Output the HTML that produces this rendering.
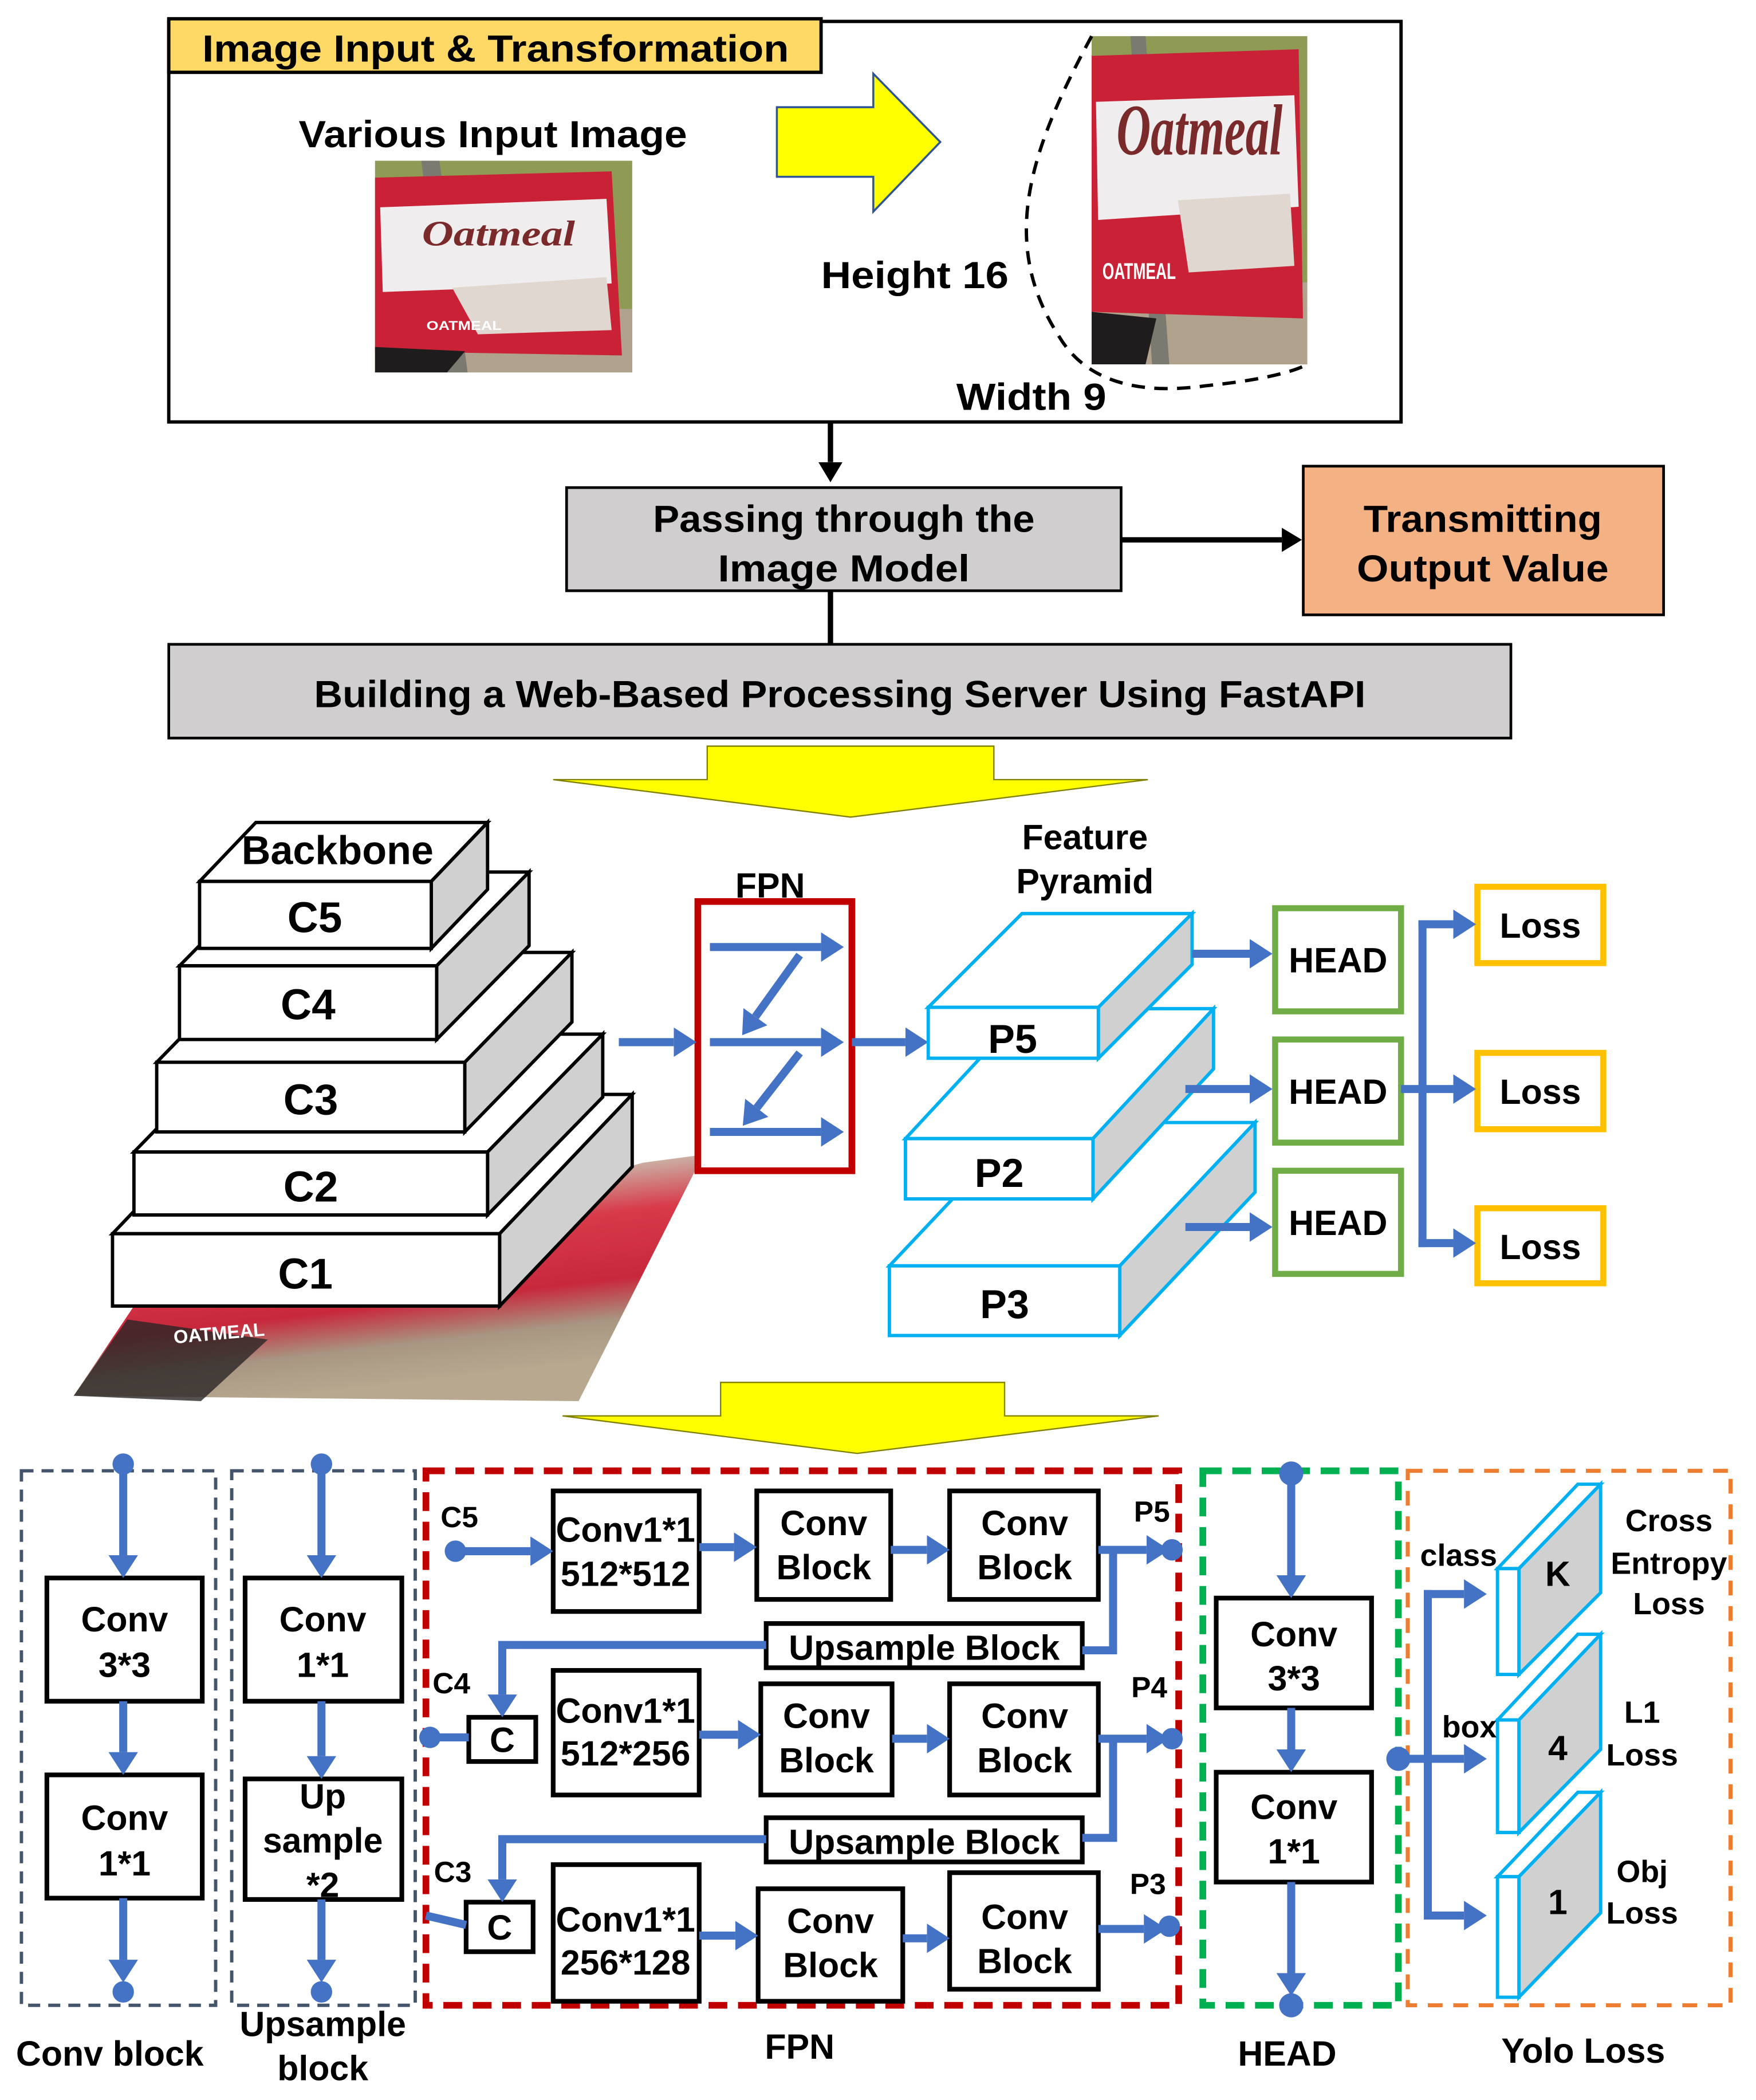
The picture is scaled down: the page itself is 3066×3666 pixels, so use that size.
<!DOCTYPE html>
<html><head><meta charset="utf-8"><style>
html,body{margin:0;padding:0;background:#fff;}
svg{display:block;}
text{font-family:"Liberation Sans",sans-serif;font-weight:bold;fill:#000;}
</style></head><body>
<svg xmlns="http://www.w3.org/2000/svg" width="3066" height="3666" viewBox="0 0 1311 1567.7" preserveAspectRatio="none">
<defs>
<marker id="b" markerUnits="userSpaceOnUse" markerWidth="17" markerHeight="22" refX="0" refY="11" orient="auto"><path d="M0,0 L17,11 L0,22 z" fill="#4472c4"/></marker>
<marker id="k" markerUnits="userSpaceOnUse" markerWidth="15" markerHeight="18" refX="0" refY="9" orient="auto"><path d="M0,0 L15,9 L0,18 z" fill="#000"/></marker>
<linearGradient id="ph" x1="0" y1="0" x2="0.3" y2="1">
<stop offset="0" stop-color="#9aa060"/><stop offset="0.25" stop-color="#c9c0b0"/><stop offset="0.45" stop-color="#d83a4a"/><stop offset="0.7" stop-color="#c8283c"/><stop offset="0.85" stop-color="#a89682"/><stop offset="1" stop-color="#b8a890"/>
</linearGradient>
</defs>

<!-- TOP SECTION -->
<rect x="126" y="16" width="920" height="299" fill="#fff" stroke="#000" stroke-width="2.5"/>
<rect x="126" y="14" width="487" height="40" fill="#ffd966" stroke="#000" stroke-width="2.5"/>
<text x="370" y="46" font-size="28" text-anchor="middle" textLength="438" lengthAdjust="spacingAndGlyphs">Image Input &amp; Transformation</text>
<text x="368" y="110" font-size="28" text-anchor="middle" textLength="290" lengthAdjust="spacingAndGlyphs">Various Input Image</text>

<!-- photo 1 -->
<g transform="translate(280,120) scale(1.92,1.58)">
<rect width="100" height="100" fill="#8f9a55"/>
<rect y="70" width="100" height="30" fill="#b0a28c"/>
<polygon points="18,0 25,0 36,100 28,100" fill="#7a7a70"/>
<polygon points="0,8 92,5 96,92 0,90" fill="#c92236"/>
<polygon points="2,22 90,18 92,58 3,62" fill="#efeded"/>
<polygon points="30,60 90,55 92,80 40,82" fill="#e0d8d0"/>
<polygon points="0,88 35,90 28,100 0,100" fill="#1e1c1c"/>
<text x="48" y="40" font-size="17" text-anchor="middle" style="font-family:'Liberation Serif',serif;font-style:italic;fill:#7a2a2a">Oatmeal</text>
<text x="20" y="80" font-size="6" style="fill:#fff">OATMEAL</text>
</g>

<!-- yellow arrow -->
<polygon points="580,80 652,80 652,55 702,106 652,158 652,132 580,132" fill="#ffff00" stroke="#2f5597" stroke-width="1.5"/>

<!-- photo 2 -->
<g transform="translate(815,27) scale(1.61,2.45)">
<rect width="100" height="100" fill="#8f9a55"/>
<rect y="75" width="100" height="25" fill="#b0a28c"/>
<polygon points="18,0 25,0 36,100 28,100" fill="#7a7a70"/>
<polygon points="0,6 96,4 98,86 0,84" fill="#c92236"/>
<polygon points="2,20 94,18 96,52 3,56" fill="#efeded"/>
<polygon points="40,50 92,48 94,70 45,72" fill="#e0d8d0"/>
<polygon points="0,84 30,86 25,100 0,100" fill="#1e1c1c"/>
<text x="50" y="36" font-size="22" text-anchor="middle" style="font-family:'Liberation Serif',serif;font-style:italic;fill:#7a2a2a">Oatmeal</text>
<text x="5" y="74" font-size="7" style="fill:#fff">OATMEAL</text>
</g>
<path d="M815,27 C770,110 745,180 790,250 C810,285 850,295 900,288 C940,284 965,278 976,272" fill="none" stroke="#000" stroke-width="2.5" stroke-dasharray="10,7"/>
<text x="683" y="215" font-size="28" text-anchor="middle" textLength="140" lengthAdjust="spacingAndGlyphs">Height 16</text>
<text x="770" y="306" font-size="28" text-anchor="middle" textLength="112" lengthAdjust="spacingAndGlyphs">Width 9</text>

<line x1="620" y1="315" x2="620" y2="345" stroke="#000" stroke-width="4" marker-end="url(#k)"/>
<rect x="423" y="364" width="414" height="77" fill="#d0cece" stroke="#000" stroke-width="2"/>
<text x="630" y="397" font-size="28" text-anchor="middle" textLength="285" lengthAdjust="spacingAndGlyphs">Passing through the</text>
<text x="630" y="434" font-size="28" text-anchor="middle" textLength="188" lengthAdjust="spacingAndGlyphs">Image Model</text>
<line x1="837" y1="403" x2="957" y2="403" stroke="#000" stroke-width="4" marker-end="url(#k)"/>
<rect x="973" y="348" width="269" height="111" fill="#f4b183" stroke="#000" stroke-width="2"/>
<text x="1107" y="397" font-size="28" text-anchor="middle" textLength="178" lengthAdjust="spacingAndGlyphs">Transmitting</text>
<text x="1107" y="434" font-size="28" text-anchor="middle" textLength="188" lengthAdjust="spacingAndGlyphs">Output Value</text>
<line x1="620" y1="441" x2="620" y2="481" stroke="#000" stroke-width="4"/>
<rect x="126" y="481" width="1002" height="70" fill="#d0cece" stroke="#000" stroke-width="2"/>
<text x="627" y="528" font-size="28" text-anchor="middle" textLength="785" lengthAdjust="spacingAndGlyphs">Building a Web-Based Processing Server Using FastAPI</text>

<!-- big yellow arrow 1 -->
<polygon points="413,582 528,582 528,557 742,557 742,582 857,582 635,610" fill="#ffff00" stroke="#7f7f00" stroke-width="1"/>

<!-- BACKBONE -->
<polygon points="55,1042 100,975 480,868 525,862 432,1046" fill="url(#ph)"/>
<polygon points="55,1042 95,985 200,1000 150,1046" fill="#2a2626" opacity="0.8"/>
<text x="130" y="1003" font-size="14" style="fill:#fff" transform="rotate(-5 130 1003)">OATMEAL</text>
<g stroke="#000" stroke-width="2.5" stroke-linejoin="miter">
<polygon points="84,921 183,817 472,817 373,921" fill="#fff"/>
<polygon points="373,921 472,817 472,871 373,975" fill="#d0d0d0"/>
<rect x="84" y="921" width="289" height="54" fill="#fff"/>
<polygon points="100,860 186,772 450,772 364,860" fill="#fff"/>
<polygon points="364,860 450,772 450,819 364,907" fill="#d0d0d0"/>
<rect x="100" y="860" width="264" height="47" fill="#fff"/>
<polygon points="117,793 197,711 427,711 347,793" fill="#fff"/>
<polygon points="347,793 427,711 427,763 347,845" fill="#d0d0d0"/>
<rect x="117" y="793" width="230" height="52" fill="#fff"/>
<polygon points="134,721 203,651 395,651 326,721" fill="#fff"/>
<polygon points="326,721 395,651 395,706 326,776" fill="#d0d0d0"/>
<rect x="134" y="721" width="192" height="55" fill="#fff"/>
<polygon points="149,658 191,614 364,614 322,658" fill="#fff"/>
<polygon points="322,658 364,614 364,664 322,708" fill="#d0d0d0"/>
<rect x="149" y="658" width="173" height="50" fill="#fff"/>
</g>
<text x="252" y="645" font-size="30" text-anchor="middle">Backbone</text>
<text x="235" y="696" font-size="32" text-anchor="middle">C5</text>
<text x="230" y="761" font-size="32" text-anchor="middle">C4</text>
<text x="232" y="832" font-size="32" text-anchor="middle">C3</text>
<text x="232" y="897" font-size="32" text-anchor="middle">C2</text>
<text x="228" y="962" font-size="32" text-anchor="middle">C1</text>

<!-- FPN -->
<text x="575" y="670" font-size="26" text-anchor="middle">FPN</text>
<rect x="521" y="673" width="115" height="201" fill="#fff" stroke="#c00000" stroke-width="5"/>
<g stroke="#4472c4" stroke-width="6" fill="none">
<line x1="462" y1="778" x2="503" y2="778" marker-end="url(#b)"/>
<line x1="530" y1="707" x2="613" y2="707" marker-end="url(#b)"/>
<line x1="530" y1="778" x2="613" y2="778" marker-end="url(#b)"/>
<line x1="530" y1="845" x2="613" y2="845" marker-end="url(#b)"/>
<line x1="597" y1="713" x2="564" y2="759" marker-end="url(#b)"/>
<line x1="597" y1="786" x2="565" y2="827" marker-end="url(#b)"/>
<line x1="636" y1="778" x2="676" y2="778" marker-end="url(#b)"/>
</g>

<text x="810" y="634" font-size="26" text-anchor="middle">Feature</text>
<text x="810" y="667" font-size="26" text-anchor="middle">Pyramid</text>
<g stroke="#00b0f0" stroke-width="2.5">
<polygon points="664,945 765,838 937,838 836,945" fill="#fff"/>
<polygon points="836,945 937,838 937,890 836,997" fill="#d0d0d0"/>
<rect x="664" y="945" width="172" height="52" fill="#fff"/>
<polygon points="676,850 766,753 906,753 816,850" fill="#fff"/>
<polygon points="816,850 906,753 906,798 816,895" fill="#d0d0d0"/>
<rect x="676" y="850" width="140" height="45" fill="#fff"/>
<polygon points="693,752 763,682 890,682 820,752" fill="#fff"/>
<polygon points="820,752 890,682 890,720 820,790" fill="#d0d0d0"/>
<rect x="693" y="752" width="127" height="38" fill="#fff"/>
</g>
<text x="756" y="786" font-size="30" text-anchor="middle">P5</text>
<text x="746" y="886" font-size="30" text-anchor="middle">P2</text>
<text x="750" y="984" font-size="30" text-anchor="middle">P3</text>

<g stroke="#70ad47" stroke-width="4.5" fill="#fff">
<rect x="952" y="678" width="94" height="77"/>
<rect x="952" y="776" width="94" height="77"/>
<rect x="952" y="874" width="94" height="77"/>
</g>
<text x="999" y="726" font-size="26" text-anchor="middle">HEAD</text>
<text x="999" y="824" font-size="26" text-anchor="middle">HEAD</text>
<text x="999" y="922" font-size="26" text-anchor="middle">HEAD</text>
<g stroke="#ffc000" stroke-width="4.5" fill="#fff">
<rect x="1103" y="662" width="94" height="57"/>
<rect x="1103" y="786" width="94" height="57"/>
<rect x="1103" y="902" width="94" height="56"/>
</g>
<text x="1150" y="700" font-size="26" text-anchor="middle">Loss</text>
<text x="1150" y="824" font-size="26" text-anchor="middle">Loss</text>
<text x="1150" y="940" font-size="26" text-anchor="middle">Loss</text>
<g stroke="#4472c4" stroke-width="6" fill="none">
<line x1="890" y1="712" x2="933" y2="712" marker-end="url(#b)"/>
<line x1="885" y1="813" x2="933" y2="813" marker-end="url(#b)"/>
<line x1="885" y1="916" x2="933" y2="916" marker-end="url(#b)"/>
<line x1="1062" y1="687" x2="1062" y2="931"/>
<line x1="1059" y1="690" x2="1085" y2="690" marker-end="url(#b)"/>
<line x1="1046" y1="813" x2="1085" y2="813" marker-end="url(#b)"/>
<line x1="1059" y1="928" x2="1085" y2="928" marker-end="url(#b)"/>
</g>

<!-- big yellow arrow 2 -->
<polygon points="420,1057 538,1057 538,1032 750,1032 750,1057 865,1057 640,1085" fill="#ffff00" stroke="#7f7f00" stroke-width="1"/>

<!-- BOTTOM -->
<rect x="16" y="1098" width="145" height="399" fill="none" stroke="#44546a" stroke-width="2.5" stroke-dasharray="9,6"/>
<rect x="173" y="1098" width="137" height="399" fill="none" stroke="#44546a" stroke-width="2.5" stroke-dasharray="9,6"/>
<rect x="318" y="1098" width="562" height="399" fill="none" stroke="#c00000" stroke-width="5" stroke-dasharray="14,8"/>
<rect x="898" y="1098" width="146" height="399" fill="none" stroke="#00b050" stroke-width="5" stroke-dasharray="14,8"/>
<rect x="1051" y="1098" width="241" height="399" fill="none" stroke="#ed7d31" stroke-width="3" stroke-dasharray="11,8"/>

<g stroke="#000" stroke-width="3.5" fill="#fff">
<rect x="35" y="1178" width="116" height="92"/>
<rect x="35" y="1325" width="116" height="92"/>
<rect x="183" y="1178" width="117" height="92"/>
<rect x="183" y="1328" width="117" height="90"/>
<rect x="413" y="1113" width="109" height="90"/>
<rect x="565" y="1113" width="100" height="81"/>
<rect x="709" y="1113" width="111" height="81"/>
<rect x="572" y="1212" width="236" height="33"/>
<rect x="350" y="1282" width="50" height="33"/>
<rect x="413" y="1247" width="109" height="93"/>
<rect x="568" y="1257" width="98" height="83"/>
<rect x="709" y="1257" width="111" height="83"/>
<rect x="572" y="1357" width="236" height="33"/>
<rect x="348" y="1420" width="50" height="37"/>
<rect x="413" y="1392" width="109" height="102"/>
<rect x="566" y="1410" width="108" height="84"/>
<rect x="709" y="1398" width="111" height="87"/>
<rect x="908" y="1193" width="116" height="82"/>
<rect x="908" y="1323" width="116" height="82"/>
</g>

<g font-size="26" text-anchor="middle">
<text x="93" y="1218">Conv</text><text x="93" y="1252">3*3</text>
<text x="93" y="1366">Conv</text><text x="93" y="1400">1*1</text>
<text x="241" y="1218">Conv</text><text x="241" y="1252">1*1</text>
<text x="241" y="1350">Up</text><text x="241" y="1383">sample</text><text x="241" y="1416">*2</text>
<text x="467" y="1151">Conv1*1</text><text x="467" y="1184">512*512</text>
<text x="615" y="1146">Conv</text><text x="615" y="1179">Block</text>
<text x="765" y="1146">Conv</text><text x="765" y="1179">Block</text>
<text x="690" y="1239">Upsample Block</text>
<text x="375" y="1308">C</text>
<text x="467" y="1286">Conv1*1</text><text x="467" y="1318">512*256</text>
<text x="617" y="1290">Conv</text><text x="617" y="1323">Block</text>
<text x="765" y="1290">Conv</text><text x="765" y="1323">Block</text>
<text x="690" y="1384">Upsample Block</text>
<text x="373" y="1448">C</text>
<text x="467" y="1442">Conv1*1</text><text x="467" y="1474">256*128</text>
<text x="620" y="1443">Conv</text><text x="620" y="1476">Block</text>
<text x="765" y="1440">Conv</text><text x="765" y="1473">Block</text>
<text x="966" y="1229">Conv</text><text x="966" y="1262">3*3</text>
<text x="966" y="1358">Conv</text><text x="966" y="1391">1*1</text>
<text x="82" y="1542">Conv block</text>
<text x="241" y="1520">Upsample</text><text x="241" y="1553">block</text>
<text x="597" y="1537">FPN</text>
<text x="961" y="1542">HEAD</text>
<text x="1182" y="1540">Yolo Loss</text>
</g>
<g font-size="22" text-anchor="middle">
<text x="343" y="1140">C5</text>
<text x="337" y="1264">C4</text>
<text x="338" y="1405">C3</text>
<text x="860" y="1136">P5</text>
<text x="858" y="1267">P4</text>
<text x="857" y="1414">P3</text>
</g>

<g stroke="#4472c4" stroke-width="6" fill="none">
<line x1="92" y1="1093" x2="92" y2="1161" marker-end="url(#b)"/>
<line x1="92" y1="1270" x2="92" y2="1308" marker-end="url(#b)"/>
<line x1="92" y1="1417" x2="92" y2="1463" marker-end="url(#b)"/>
<line x1="240" y1="1093" x2="240" y2="1161" marker-end="url(#b)"/>
<line x1="240" y1="1270" x2="240" y2="1311" marker-end="url(#b)"/>
<line x1="240" y1="1418" x2="240" y2="1463" marker-end="url(#b)"/>
<line x1="340" y1="1158" x2="396" y2="1158" marker-end="url(#b)"/>
<line x1="522" y1="1155" x2="548" y2="1155" marker-end="url(#b)"/>
<line x1="665" y1="1157" x2="692" y2="1157" marker-end="url(#b)"/>
<line x1="820" y1="1157" x2="856" y2="1157" marker-end="url(#b)"/>
<polyline points="831,1157 831,1232 808,1232"/>
<polyline points="572,1228 375,1228 375,1265" marker-end="url(#b)"/>
<line x1="321" y1="1297" x2="350" y2="1297"/>
<line x1="522" y1="1295" x2="551" y2="1295" marker-end="url(#b)"/>
<line x1="666" y1="1298" x2="692" y2="1298" marker-end="url(#b)"/>
<line x1="820" y1="1298" x2="856" y2="1298" marker-end="url(#b)"/>
<polyline points="831,1298 831,1372 808,1372"/>
<polyline points="572,1373 375,1373 375,1403" marker-end="url(#b)"/>
<line x1="318" y1="1430" x2="348" y2="1437"/>
<line x1="522" y1="1445" x2="549" y2="1445" marker-end="url(#b)"/>
<line x1="674" y1="1447" x2="692" y2="1447" marker-end="url(#b)"/>
<line x1="820" y1="1440" x2="854" y2="1440" marker-end="url(#b)"/>
<line x1="964" y1="1100" x2="964" y2="1176" marker-end="url(#b)"/>
<line x1="964" y1="1275" x2="964" y2="1306" marker-end="url(#b)"/>
<line x1="964" y1="1405" x2="964" y2="1473" marker-end="url(#b)"/>
<line x1="1044" y1="1313" x2="1093" y2="1313" marker-end="url(#b)"/>
<line x1="1066" y1="1187" x2="1066" y2="1433"/>
<line x1="1063" y1="1190" x2="1093" y2="1190" marker-end="url(#b)"/>
<line x1="1063" y1="1430" x2="1093" y2="1430" marker-end="url(#b)"/>
</g>
<g fill="#4472c4">
<circle cx="92" cy="1093" r="8"/><circle cx="92" cy="1487" r="8"/>
<circle cx="240" cy="1093" r="8"/><circle cx="240" cy="1487" r="8"/>
<circle cx="340" cy="1158" r="8"/><circle cx="875" cy="1157" r="8"/>
<circle cx="321" cy="1297" r="8"/><circle cx="875" cy="1298" r="8"/>
<circle cx="873" cy="1438" r="8"/><circle cx="964" cy="1100" r="9"/>
<circle cx="964" cy="1497" r="9"/><circle cx="1044" cy="1313" r="9"/>
</g>

<g stroke="#00b0f0" stroke-width="2.5">
<polygon points="1118,1171 1178,1108 1195,1108 1134,1171" fill="#fff"/>
<polygon points="1134,1171 1195,1108 1195,1189 1134,1250" fill="#d0d0d0"/>
<rect x="1118" y="1171" width="16" height="79" fill="#fff"/>
<polygon points="1118,1284 1178,1220 1195,1220 1134,1284" fill="#fff"/>
<polygon points="1134,1284 1195,1220 1195,1306 1134,1368" fill="#d0d0d0"/>
<rect x="1118" y="1284" width="16" height="84" fill="#fff"/>
<polygon points="1118,1401 1178,1338 1195,1338 1134,1401" fill="#fff"/>
<polygon points="1134,1401 1195,1338 1195,1428 1134,1491" fill="#d0d0d0"/>
<rect x="1118" y="1401" width="16" height="90" fill="#fff"/>
</g>
<g font-size="26" text-anchor="middle">
<text x="1163" y="1184">K</text>
<text x="1163" y="1314">4</text>
<text x="1163" y="1429">1</text>
</g>
<g font-size="23" text-anchor="middle">
<text x="1089" y="1169">class</text>
<text x="1097" y="1297">box</text>
<text x="1246" y="1143">Cross</text>
<text x="1246" y="1175">Entropy</text>
<text x="1246" y="1205">Loss</text>
<text x="1226" y="1286">L1</text>
<text x="1226" y="1318">Loss</text>
<text x="1226" y="1405">Obj</text>
<text x="1226" y="1436">Loss</text>
</g>
</svg>
</body></html>
